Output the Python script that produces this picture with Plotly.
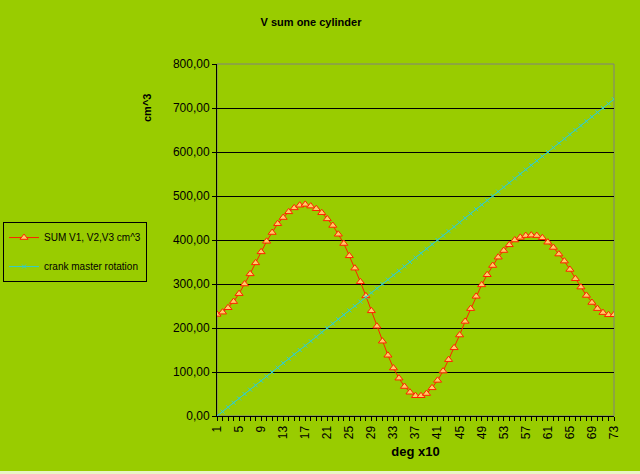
import plotly.graph_objects as go

x_vals = list(range(1, 74))
sum_v = [231, 236, 246, 260, 278, 300, 323, 348, 373, 397,
         417, 437, 451, 464, 473, 479, 481, 477, 471, 462,
         448, 433, 413, 392, 364, 336, 305, 273, 239, 204,
         170, 138, 109, 86, 67, 54, 46, 46, 51, 64,
         81, 102, 128, 155, 184, 215, 244, 272, 298, 321,
         342, 361, 376, 389, 400, 406, 410, 411, 410, 405,
         395, 383, 368, 352, 333, 312, 293, 274, 258, 244,
         235, 230, 230]
crank = [10 * (i - 1) for i in x_vals]
tick_text = [str(i) if (i - 1) % 4 == 0 else "" for i in x_vals]

BG = "#99CC00"
FONT = "Liberation Sans, Arial, sans-serif"

fig = go.Figure()
fig.add_trace(go.Scatter(
    x=x_vals, y=sum_v, mode="lines+markers", name="SUM V1, V2,V3 cm^3",
    legendgroup="a",
    line=dict(color="#FF2200", width=1),
    marker=dict(symbol="triangle-up", size=7, color="#FFCC66",
                line=dict(color="#FF2200", width=1))))
fig.add_trace(go.Scatter(
    x=x_vals, y=crank, mode="lines+markers", name="crank master rotation",
    legendgroup="b",
    line=dict(color="#33CCCC", width=1),
    marker=dict(symbol="x-thin-open", size=4,
                line=dict(color="#33CCCC", width=1))))

fig.update_layout(
    width=640, height=474,
    paper_bgcolor=BG, plot_bgcolor=BG,
    margin=dict(l=217, r=26, t=64, b=58, autoexpand=False),
    separators=",.",
    font=dict(family=FONT, size=11, color="black"),
    title=dict(text="<b>V sum one cylinder</b>", x=311 / 640, xanchor="center",
               y=1 - 22 / 474, yanchor="middle", font=dict(size=11)),
    showlegend=True,
    legend=dict(x=-0.539, y=0.551, xanchor="left", yanchor="top",
                bgcolor=BG, bordercolor="black", borderwidth=1,
                font=dict(size=10), tracegroupgap=10, itemwidth=30),
    xaxis=dict(range=[1, 73], tickmode="array", tickvals=x_vals, ticktext=tick_text,
               tickangle=-90, ticks="outside", ticklen=4, tickcolor="black",
               showgrid=False, zeroline=False, showline=True, linecolor="black",
               linewidth=1, title=dict(text="<b>deg x10</b>", standoff=8),
               tickfont=dict(size=12)),
    yaxis=dict(range=[0, 800], dtick=100, tickformat=".2f", ticks="outside",
               ticklen=4, tickcolor="black", showgrid=True, gridcolor="black",
               gridwidth=1, zeroline=False, showline=True, linecolor="black",
               linewidth=1, tickfont=dict(size=12)),
    shapes=[dict(type="rect", xref="paper", yref="paper", x0=0, x1=1, y0=0, y1=1,
                 line=dict(color="#808080", width=1), layer="below"),
            dict(type="rect", xref="paper", yref="paper",
                 x0=-217 / 397, x1=1 + 26 / 397,
                 y0=(416 - 476) / 352, y1=(416 - 471) / 352,
                 fillcolor="#E8F5C8", line=dict(width=0), layer="above")],
    annotations=[dict(text="<b>cm^3</b>", textangle=-90, xref="paper", yref="paper",
                      x=(147 - 217) / 397, y=(416 - 108) / 352, showarrow=False,
                      xanchor="center", yanchor="middle", font=dict(size=11))],
)

fig.write_html("out.html", config={"displayModeBar": False},
               post_script="document.body.style.margin='0';document.body.style.padding='0';")
